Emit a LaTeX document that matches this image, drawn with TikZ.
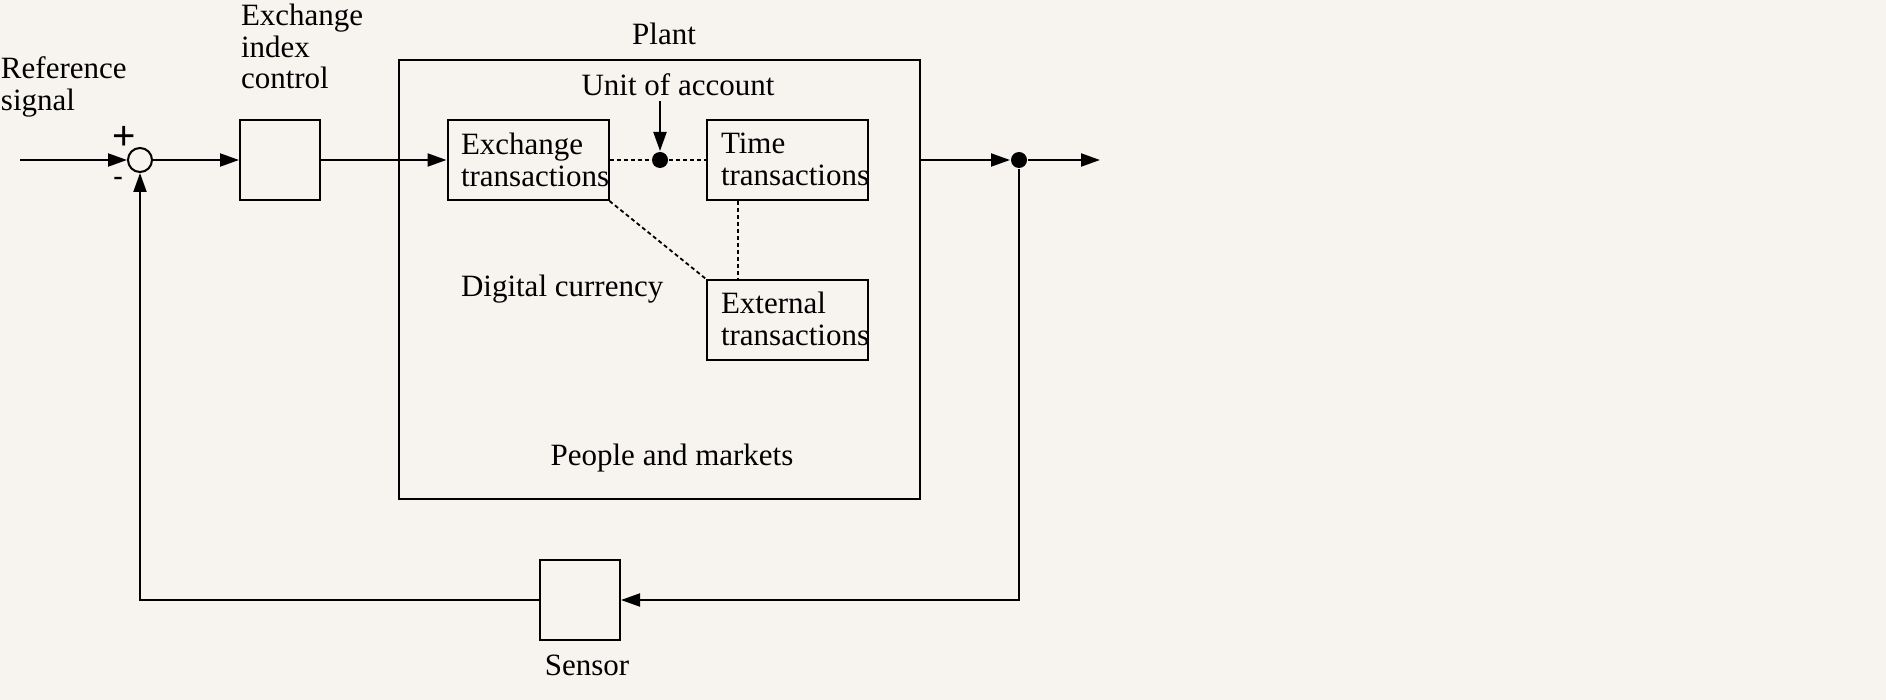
\documentclass[tikz,border=0pt]{standalone}
\usepackage{fontspec}
\setmainfont{Liberation Serif}
\newfontfamily\signfont{Liberation Sans}
\usetikzlibrary{arrows.meta,calc}
\definecolor{bg}{HTML}{F7F4EF}
\begin{document}
\begin{tikzpicture}[x=1pt,y=-1pt,line width=2pt,
  lbl/.style={inner sep=0pt,font=\fontsize{31}{31.5}\selectfont},
  sgn/.style={inner sep=0pt,font=\signfont\fontsize{30}{31}\selectfont,anchor=base},
  blk/.style={draw,inner sep=0pt,minimum width=#1},
  arr/.style={-{Triangle[length=19pt,width=13pt]}},
  dotl/.style={line width=1.8pt,dash pattern=on 4pt off 3pt},
  jdot/.style={circle,fill,inner sep=0pt,minimum size=16pt}]
\fill[bg] (0,0) rectangle (1886,700);
\useasboundingbox (0,0) rectangle (1886,700);
% blocks
\node[circle,draw,inner sep=0pt,minimum size=24pt] (sum) at (140,160) {};
\node[blk=80pt,minimum height=80pt] (ctrl) at (280,160) {};
\node[blk=521pt,minimum height=439pt] (plant) at (659.5,279.5) {};
\node[blk=161pt,minimum height=80pt] (ex) at (528,160) {};
\node[blk=161pt,minimum height=80pt] (tt) at (787.5,160) {};
\node[blk=161pt,minimum height=80pt] (et) at (787.5,320) {};
\node[blk=80pt,minimum height=80pt] (sens) at (580,600) {};
\node[jdot] (d1) at (660,160) {};
\node[jdot] (d2) at (1019,160) {};
\coordinate (in) at (20,160);
\coordinate (out) at (1100,160);
% labels
\node[lbl,anchor=north west,align=left] (refl) at (0,56) {Reference\\signal};
\node[lbl,anchor=north west,align=left] (ctrll) at (240,3) {Exchange\\index\\control};
\node[lbl,anchor=base] (plantl) at (664,45) {Plant};
\node[lbl,anchor=base] (unit) at (678,96) {Unit of account};
\node[lbl,anchor=north west,align=left] (exl) at (460,132) {Exchange\\transactions};
\node[lbl,anchor=north west,align=left] (ttl) at (720,132) {Time\\transactions};
\node[lbl,anchor=north west,align=left] (etl) at (720,291) {External\\transactions};
\node[lbl,anchor=base west] (dcl) at (460,297) {Digital currency};
\node[lbl,anchor=base] (pml) at (672,465) {People and markets};
\node[lbl,anchor=base] (sensl) at (587,675) {Sensor};
\node[sgn,font=\signfont\fontsize{40}{41}\selectfont] (plus) at (124,150) {+};
\node[sgn] (minus) at (118,187) {-};
% connectors
\draw[arr] (in) -- (sum);
\draw[arr] (sum) -- (ctrl);
\draw[arr] (ctrl) -- (ex);
\draw[dotl] (ex) -- (d1);
\draw[dotl] (d1) -- (tt);
\draw[arr,shorten <=4pt] (unit.south -| d1) -- (d1);
\draw[dotl] (ex.south east) -- (et.north west);
\draw[dotl] ($(tt.south west)+(32,0)$) -- ($(et.north west)+(32,0)$);
\draw[arr] (ex -| plant.east) -- (d2);
\draw[arr] (d2) -- (out);
\draw[arr] (d2) |- (sens.east);
\draw[arr] (sens.west) -| (sum.south);
\end{tikzpicture}
\end{document}
